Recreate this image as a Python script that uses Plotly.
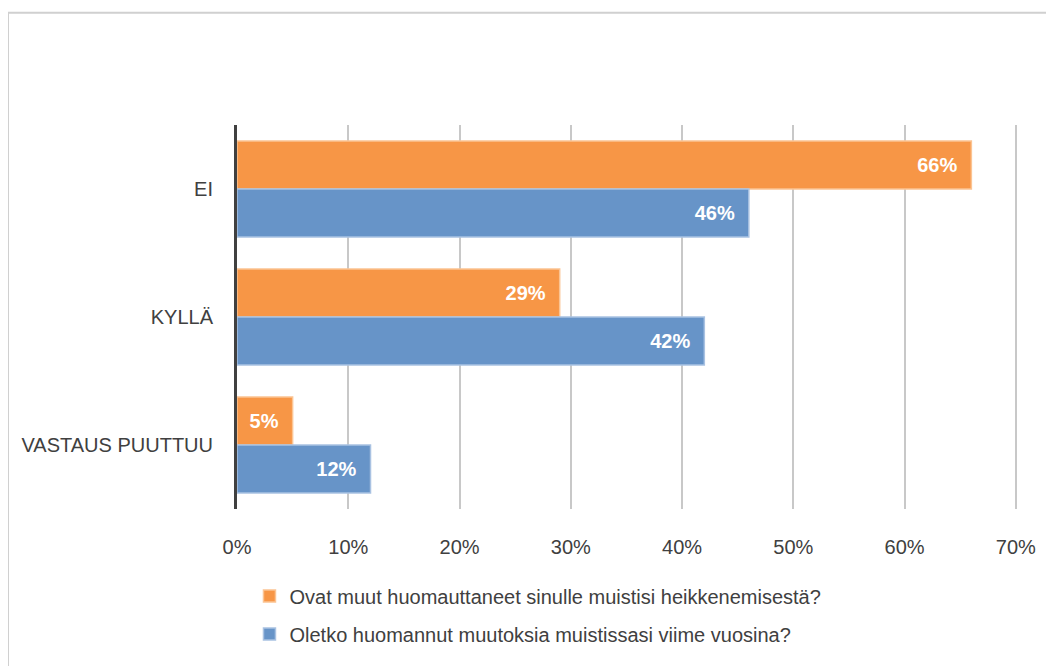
import plotly.graph_objects as go

categories = ["EI", "KYLLÄ", "VASTAUS PUUTTUU"]
series_names = [
    "Ovat muut huomauttaneet sinulle muistisi heikkenemisestä?",
    "Oletko huomannut muutoksia muistissasi viime vuosina?",
]
values_others = [66, 29, 5]
values_self = [46, 42, 12]
tick_vals = [0, 10, 20, 30, 40, 50, 60, 70]
tick_text = ["0%", "10%", "20%", "30%", "40%", "50%", "60%", "70%"]

FONT = "Liberation Sans Narrow, Arial Narrow, Liberation Sans, Arial, sans-serif"

fig = go.Figure()
fig.add_trace(go.Bar(
    y=categories, x=values_others, orientation="h", name=series_names[0],
    marker=dict(color="#F79646", line=dict(color="#FBC493", width=1.5)),
    texttemplate="%{x}%\u00a0\u00a0", textposition="inside", insidetextanchor="end",
    textfont=dict(family=FONT, size=20, color="white", weight="bold"),
    legendgroup="a",
))
fig.add_trace(go.Bar(
    y=categories, x=values_self, orientation="h", name=series_names[1],
    marker=dict(color="#6794C8", line=dict(color="#A9C2E2", width=1.5)),
    texttemplate="%{x}%\u00a0\u00a0", textposition="inside", insidetextanchor="end",
    textfont=dict(family=FONT, size=20, color="white", weight="bold"),
    legendgroup="b",
))

# page body adds an 8px offset, so the figure is drawn 8px in from the window edge
fig.update_layout(
    width=1046, height=658,
    margin=dict(l=229, r=37, t=117, b=148),
    paper_bgcolor="white", plot_bgcolor="white",
    barmode="group", bargap=0.25, bargroupgap=0,
    font=dict(family=FONT, size=20, color="#404040"),
    showlegend=True,
    legend=dict(x=0.016, y=-0.176, xanchor="left", yanchor="top",
                traceorder="grouped", tracegroupgap=9,
                font=dict(family=FONT, size=20, color="#404040"),
                itemwidth=30),
)
fig.update_xaxes(range=[0, 70.1], tickvals=tick_vals, ticktext=tick_text,
                 showgrid=True, gridcolor="#C8C8C8", gridwidth=1.5,
                 zeroline=False, showline=False, ticklabelstandoff=24,
                 tickfont=dict(family=FONT, size=20, color="#404040"))
fig.update_yaxes(autorange="reversed", showline=True, linecolor="#404040", linewidth=3,
                 showgrid=False, ticklabelstandoff=17,
                 tickfont=dict(family=FONT, size=20, color="#404040"))

fig.add_shape(type="rect", xref="paper", yref="paper",
              x0=(8 - 237) / 780, x1=(1047 - 237) / 780,
              y0=(518 - 680) / 393, y1=(518 - 10) / 393,
              line=dict(color="#D0D0D0", width=2), fillcolor="rgba(0,0,0,0)", layer="below")

fig.write_html("out.html")
